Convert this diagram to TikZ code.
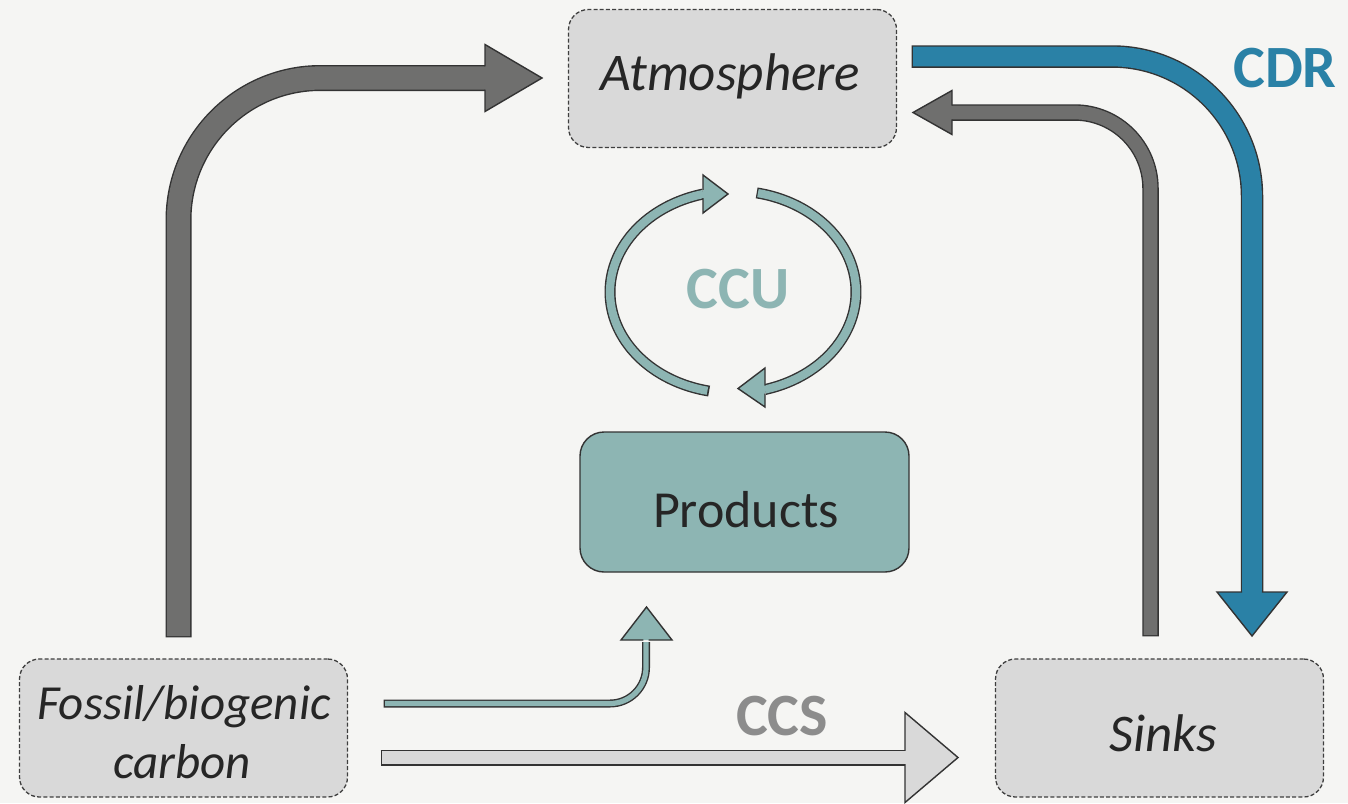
\documentclass[tikz,border=0pt]{standalone}
\usepackage{fontspec}
\setmainfont{Carlito}
\definecolor{bg}{HTML}{F5F5F3}
\definecolor{boxgray}{HTML}{D9D9D9}
\definecolor{edge}{HTML}{333333}
\definecolor{dashc}{HTML}{3F3F3F}
\definecolor{dgray}{HTML}{6F6F6E}
\definecolor{cdrblue}{HTML}{2A81A6}
\definecolor{ccuteal}{HTML}{8DB5B3}
\definecolor{ccsgray}{HTML}{8C8C8C}
\definecolor{txt}{HTML}{262626}
\tikzset{
  dbox/.style={draw=dashc, line width=1.3pt, dash pattern=on 4pt off 2.2pt, fill=boxgray,
    rounded corners=20pt, minimum width=328pt, minimum height=138pt, inner sep=0pt},
  pbox/.style={draw=edge, line width=1.4pt, fill=ccuteal, rounded corners=24pt,
    minimum width=329pt, minimum height=140pt, inner sep=0pt},
  itlbl/.style={inner sep=0pt, anchor=base, text=txt, font=\fontsize{53}{60}\selectfont\itshape},
  uplbl/.style={inner sep=0pt, anchor=base, text=txt, font=\fontsize{52}{60}\selectfont},
  bold lbl/.style={inner sep=0pt, anchor=base, font=\fontsize{60}{66}\selectfont\bfseries},
  rim/.style={draw=edge, line cap=butt},
  headshape/.style={draw=edge, line width=1.4pt, line join=miter}
}
\begin{document}
\begin{tikzpicture}[x=1pt,y=-1pt]
\useasboundingbox (0,0) rectangle (1348,803);
\fill[bg] (0,0) rectangle (1348,803);

% boxes
\node[dbox] (atm) at (732.5,78.5) {};
\node[dbox] (fossil) at (183.5,728) {};
\node[dbox] (sinks) at (1159.5,728) {};
\node[pbox] (products) at (744.5,502) {};

% labels
\node[itlbl] (atmT) at (730,90) {Atmosphere};
\node[itlbl, font=\fontsize{49}{55}\selectfont\itshape] (fossilA) at (184,719) {Fossil/biogenic};
\node[itlbl, font=\fontsize{49}{55}\selectfont\itshape] (fossilB) at (182,778) {carbon};
\node[itlbl] (sinksT) at (1163,751) {Sinks};
\node[uplbl] (productsT) at (746,527) {Products};
\node[bold lbl, text=ccuteal] (ccu) at (738,308) {CCU};
\node[bold lbl, text=cdrblue] (cdr) at (1285,87) {CDR};
\node[bold lbl, text=ccsgray] (ccs) at (782,735) {CCS};

% connector end points
\coordinate (a1s) at (178.5,636);
\coordinate (a1e) at (487,78);
\coordinate (a2s) at (1150.5,635);
\coordinate (a2e) at (950,112.5);
\coordinate (a3s) at (913,56.5);
\coordinate (a3e) at (1252,594);
\coordinate (a4s) at (385,703.5);
\coordinate (a4e) at (646,642);
\coordinate (a5s) at (382,757.5);
\coordinate (a5e) at (907,757.5);

% left gray arrow: fossil -> atmosphere
\draw[rim, line width=26pt, rounded corners=142pt] ([yshift=-1.4pt]a1s) |- (a1e);
\draw[dgray, line width=23.2pt, rounded corners=142pt] (a1s) |- (a1e);
\filldraw[headshape, fill=dgray] (485,66.4) -- (485,44.5) -- (542,78) -- (485,111.5) -- (485,89.6);

% blue CDR arrow: atmosphere -> sinks
\draw[rim, line width=22.5pt, rounded corners=140pt] ([xshift=-1.4pt]a3s) -| (a3e);
\draw[cdrblue, line width=19.7pt, rounded corners=140pt] (a3s) -| (a3e);
\filldraw[headshape, fill=cdrblue] (1242.2,592) -- (1217,592) -- (1252,636) -- (1287,592) -- (1261.8,592);

% right gray arrow: sinks -> atmosphere
\draw[rim, line width=16.5pt, rounded corners=76pt] ([yshift=-1.4pt]a2s) |- (a2e);
\draw[dgray, line width=13.7pt, rounded corners=76pt] (a2s) |- (a2e);
\filldraw[headshape, fill=dgray] (952,105.7) -- (952,90.5) -- (913,112.5) -- (952,134.5) -- (952,119.3);

% small teal arrow: fossil -> products
\draw[rim, line width=8pt, rounded corners=36pt] ([xshift=-1.4pt]a4s) -| (a4e);
\draw[ccuteal, line width=5.2pt, rounded corners=36pt] (a4s) -| (a4e);
\filldraw[headshape, fill=ccuteal] (643.4,640) -- (621,640) -- (646.5,607) -- (672,640) -- (648.6,640);

% CCS arrow: fossil -> sinks
\draw[rim, line width=16pt] ([xshift=-1.4pt]a5s) -- (a5e);
\draw[boxgray, line width=13.2pt] (a5s) -- (a5e);
\filldraw[headshape, fill=boxgray] (905,750.9) -- (905,712.5) -- (958,757.5) -- (905,802.5) -- (905,764.1);

% CCU cycle arrows
\draw[rim, line width=11pt] plot[domain=104:258.8, samples=70, smooth] ({733+123*cos(\x)},{292-101*sin(\x)});
\draw[ccuteal, line width=8.2pt] plot[domain=104:258, samples=70, smooth] ({733+123*cos(\x)},{292-101*sin(\x)});
\filldraw[headshape, fill=ccuteal] (703,189.9) -- (703,175) -- (728,194) -- (703,213) -- (703,198.1);

\draw[rim, line width=11pt] plot[domain=-75:78.9, samples=70, smooth] ({733+123*cos(\x)},{292-101*sin(\x)});
\draw[ccuteal, line width=8.2pt] plot[domain=-75:78.3, samples=70, smooth] ({733+123*cos(\x)},{292-101*sin(\x)});
\filldraw[headshape, fill=ccuteal] (765,385.5) -- (765,368) -- (738,388.5) -- (765,407) -- (765,393.7);
\end{tikzpicture}
\end{document}
